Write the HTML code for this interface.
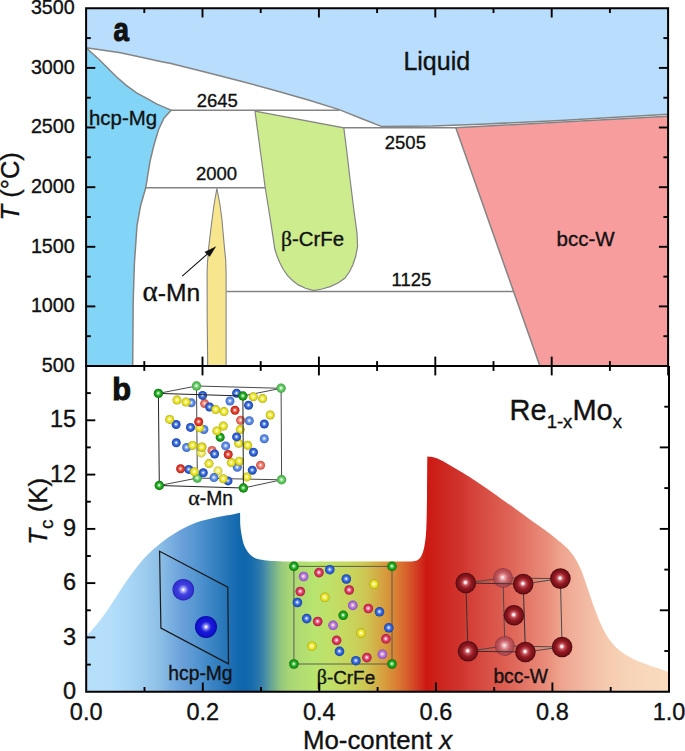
<!DOCTYPE html>
<html><head><meta charset="utf-8"><title>Re-Mo phase diagram</title>
<style>
html,body{margin:0;padding:0;background:#fff;}
body{width:685px;height:751px;overflow:hidden;}
svg{display:block;}
text{font-family:"Liberation Sans",sans-serif;fill:#111;stroke:#111;stroke-width:0.35px;}
.ser{font-family:"Liberation Serif",serif;}
</style></head><body>
<svg width="685" height="751" viewBox="0 0 685 751">
<defs>
<linearGradient id="gb" gradientUnits="userSpaceOnUse" x1="0" y1="0" x2="685" y2="0">
<stop offset="0.1255" stop-color="#b6dffb"/>
<stop offset="0.1620" stop-color="#b4defa"/>
<stop offset="0.1752" stop-color="#addaf8"/>
<stop offset="0.1883" stop-color="#a8d6f5"/>
<stop offset="0.2000" stop-color="#a3d1f2"/>
<stop offset="0.2117" stop-color="#9ccbee"/>
<stop offset="0.2219" stop-color="#95c5ea"/>
<stop offset="0.2328" stop-color="#8dbfe6"/>
<stop offset="0.2511" stop-color="#78aee0"/>
<stop offset="0.2672" stop-color="#689fd9"/>
<stop offset="0.2832" stop-color="#5898d2"/>
<stop offset="0.2993" stop-color="#468ccb"/>
<stop offset="0.3149" stop-color="#3580c0"/>
<stop offset="0.3285" stop-color="#2776b9"/>
<stop offset="0.3401" stop-color="#1a6db2"/>
<stop offset="0.3504" stop-color="#1268ad"/>
<stop offset="0.3562" stop-color="#0f66ab"/>
<stop offset="0.3635" stop-color="#1469ac"/>
<stop offset="0.3723" stop-color="#1f70ad"/>
<stop offset="0.3796" stop-color="#2e7aab"/>
<stop offset="0.3854" stop-color="#4088a8"/>
<stop offset="0.3912" stop-color="#5699a0"/>
<stop offset="0.3980" stop-color="#6eaa92"/>
<stop offset="0.4044" stop-color="#82b987"/>
<stop offset="0.4108" stop-color="#96c87c"/>
<stop offset="0.4175" stop-color="#a1d077"/>
<stop offset="0.4234" stop-color="#a8d674"/>
<stop offset="0.4380" stop-color="#b0dc72"/>
<stop offset="0.4599" stop-color="#b8e46f"/>
<stop offset="0.4818" stop-color="#c0e068"/>
<stop offset="0.5139" stop-color="#c8d45c"/>
<stop offset="0.5343" stop-color="#cdc653"/>
<stop offset="0.5460" stop-color="#d2b449"/>
<stop offset="0.5620" stop-color="#d79c3e"/>
<stop offset="0.5777" stop-color="#d98134"/>
<stop offset="0.5936" stop-color="#d8602c"/>
<stop offset="0.6096" stop-color="#d23a22"/>
<stop offset="0.6219" stop-color="#cd1812"/>
<stop offset="0.6416" stop-color="#cc231c"/>
<stop offset="0.6636" stop-color="#cf3029"/>
<stop offset="0.6730" stop-color="#d0342c"/>
<stop offset="0.6861" stop-color="#d44038"/>
<stop offset="0.7007" stop-color="#d6483f"/>
<stop offset="0.7080" stop-color="#d84e44"/>
<stop offset="0.7299" stop-color="#dc5a4e"/>
<stop offset="0.7533" stop-color="#e06a5c"/>
<stop offset="0.7752" stop-color="#e57c6c"/>
<stop offset="0.7980" stop-color="#e98d7a"/>
<stop offset="0.8204" stop-color="#eea58f"/>
<stop offset="0.8423" stop-color="#f1b29c"/>
<stop offset="0.8651" stop-color="#f3bfa6"/>
<stop offset="0.8876" stop-color="#f6cbaf"/>
<stop offset="0.9095" stop-color="#f7d1b5"/>
<stop offset="0.9323" stop-color="#f8d6b9"/>
<stop offset="0.9547" stop-color="#f9d9bc"/>
<stop offset="0.9766" stop-color="#f9dbbe"/>
</linearGradient>
<radialGradient id="sY" cx="0.5" cy="0.5" r="0.5" fx="0.48" fy="0.47">
<stop offset="0" stop-color="#ffffff"/>
<stop offset="0.07" stop-color="#ffffff"/>
<stop offset="0.28" stop-color="#f6f27a"/>
<stop offset="0.55" stop-color="#ece62c"/>
<stop offset="0.85" stop-color="#d2cc1c"/>
<stop offset="1" stop-color="#a39d10"/>
</radialGradient>
<radialGradient id="sLY" cx="0.5" cy="0.5" r="0.5" fx="0.48" fy="0.47">
<stop offset="0" stop-color="#ffffff"/>
<stop offset="0.07" stop-color="#ffffff"/>
<stop offset="0.28" stop-color="#f8f6a0"/>
<stop offset="0.55" stop-color="#f0ec60"/>
<stop offset="0.85" stop-color="#dcd748"/>
<stop offset="1" stop-color="#b5b030"/>
</radialGradient>
<radialGradient id="sB" cx="0.5" cy="0.5" r="0.5" fx="0.48" fy="0.47">
<stop offset="0" stop-color="#ffffff"/>
<stop offset="0.07" stop-color="#ffffff"/>
<stop offset="0.28" stop-color="#7ea2ee"/>
<stop offset="0.55" stop-color="#3568d6"/>
<stop offset="0.85" stop-color="#2150c0"/>
<stop offset="1" stop-color="#143a96"/>
</radialGradient>
<radialGradient id="sLB" cx="0.5" cy="0.5" r="0.5" fx="0.48" fy="0.47">
<stop offset="0" stop-color="#ffffff"/>
<stop offset="0.07" stop-color="#ffffff"/>
<stop offset="0.28" stop-color="#a0bef4"/>
<stop offset="0.55" stop-color="#5f8de4"/>
<stop offset="0.85" stop-color="#4876d4"/>
<stop offset="1" stop-color="#3560b4"/>
</radialGradient>
<radialGradient id="sR" cx="0.5" cy="0.5" r="0.5" fx="0.48" fy="0.47">
<stop offset="0" stop-color="#ffffff"/>
<stop offset="0.07" stop-color="#ffffff"/>
<stop offset="0.28" stop-color="#f08a7c"/>
<stop offset="0.55" stop-color="#e2402f"/>
<stop offset="0.85" stop-color="#cc2a20"/>
<stop offset="1" stop-color="#9c1a12"/>
</radialGradient>
<radialGradient id="sLR" cx="0.5" cy="0.5" r="0.5" fx="0.48" fy="0.47">
<stop offset="0" stop-color="#ffffff"/>
<stop offset="0.07" stop-color="#ffffff"/>
<stop offset="0.28" stop-color="#f4aaa0"/>
<stop offset="0.55" stop-color="#ea7466"/>
<stop offset="0.85" stop-color="#dc5e52"/>
<stop offset="1" stop-color="#b8443a"/>
</radialGradient>
<radialGradient id="sG" cx="0.5" cy="0.5" r="0.5" fx="0.48" fy="0.47">
<stop offset="0" stop-color="#ffffff"/>
<stop offset="0.07" stop-color="#ffffff"/>
<stop offset="0.28" stop-color="#6cd46c"/>
<stop offset="0.55" stop-color="#1ea81e"/>
<stop offset="0.85" stop-color="#128c12"/>
<stop offset="1" stop-color="#0a680a"/>
</radialGradient>
<radialGradient id="sLG" cx="0.5" cy="0.5" r="0.5" fx="0.48" fy="0.47">
<stop offset="0" stop-color="#ffffff"/>
<stop offset="0.07" stop-color="#ffffff"/>
<stop offset="0.28" stop-color="#a4e4a4"/>
<stop offset="0.55" stop-color="#62c862"/>
<stop offset="0.85" stop-color="#4cb44c"/>
<stop offset="1" stop-color="#389638"/>
</radialGradient>
<radialGradient id="sP" cx="0.5" cy="0.5" r="0.5" fx="0.48" fy="0.47">
<stop offset="0" stop-color="#fff6b0"/>
<stop offset="0.07" stop-color="#fff6b0"/>
<stop offset="0.28" stop-color="#d8b0d8"/>
<stop offset="0.55" stop-color="#b878e0"/>
<stop offset="0.85" stop-color="#9c5cd2"/>
<stop offset="1" stop-color="#7a40b0"/>
</radialGradient>
<radialGradient id="sC" cx="0.5" cy="0.5" r="0.5" fx="0.48" fy="0.47">
<stop offset="0" stop-color="#ffffff"/>
<stop offset="0.07" stop-color="#ffffff"/>
<stop offset="0.28" stop-color="#f090a8"/>
<stop offset="0.55" stop-color="#dc3c62"/>
<stop offset="0.85" stop-color="#c4264e"/>
<stop offset="1" stop-color="#961a3a"/>
</radialGradient>
<radialGradient id="sW" cx="0.5" cy="0.5" r="0.5" fx="0.48" fy="0.47">
<stop offset="0" stop-color="#ffffff"/>
<stop offset="0.07" stop-color="#ffffff"/>
<stop offset="0.28" stop-color="#c4525a"/>
<stop offset="0.55" stop-color="#961a22"/>
<stop offset="0.85" stop-color="#741018"/>
<stop offset="1" stop-color="#48070b"/>
</radialGradient>
<radialGradient id="sWf" cx="0.5" cy="0.5" r="0.5" fx="0.48" fy="0.47">
<stop offset="0" stop-color="#ffffff"/>
<stop offset="0.07" stop-color="#ffffff"/>
<stop offset="0.28" stop-color="#e8a0a8"/>
<stop offset="0.55" stop-color="#c25c66"/>
<stop offset="0.85" stop-color="#aa444e"/>
<stop offset="1" stop-color="#86303a"/>
</radialGradient>
<radialGradient id="sMg" cx="0.5" cy="0.5" r="0.5" fx="0.5" fy="0.5">
<stop offset="0" stop-color="#ffffff"/>
<stop offset="0.05" stop-color="#f4f4ff"/>
<stop offset="0.24" stop-color="#9494f2"/>
<stop offset="0.48" stop-color="#4040e0"/>
<stop offset="0.86" stop-color="#3232d2"/>
<stop offset="1" stop-color="#2222a8"/>
</radialGradient>
<radialGradient id="sMg2" cx="0.5" cy="0.5" r="0.5" fx="0.5" fy="0.5">
<stop offset="0" stop-color="#ffffff"/>
<stop offset="0.05" stop-color="#f4f4ff"/>
<stop offset="0.24" stop-color="#7474ee"/>
<stop offset="0.48" stop-color="#1a1adc"/>
<stop offset="0.86" stop-color="#1010cc"/>
<stop offset="1" stop-color="#0a0a9a"/>
</radialGradient>
</defs>
<polygon points="86.1,8.3 668.1,8.3 668.1,114.3 560.0,120.5 480.0,124.3 432.7,126.0 381.9,126.6 362.6,119.0 339.2,109.6 310.0,100.5 290.0,94.7 275.1,90.5 240.1,81.0 205.0,71.9 170.0,63.3 162.8,61.9 142.4,57.5 120.5,52.8 100.0,49.8 86.1,47.8" fill="#b9defd"/>
<polygon points="86.1,47.8 98.6,59.0 107.4,67.7 116.1,76.5 126.3,85.3 136.6,92.8 148.2,99.1 157.0,104.2 165.8,107.9 171.2,110.3 164.1,117.9 158.7,129.2 153.9,145.2 150.0,161.3 147.4,177.4 145.8,187.5 140.5,206.0 137.0,225.7 134.4,263.4 133.2,301.0 132.7,365.8 86.1,366.0" fill="#82d5f6"/>
<polygon points="255.0,111.2 343.8,127.8 347.0,153.0 350.1,179.8 354.1,211.8 357.0,233.0 357.6,246.4 355.8,256.0 352.8,265.0 349.3,272.0 344.8,278.3 338.0,283.0 330.2,286.6 322.0,289.0 313.7,290.6 305.5,288.3 298.2,284.9 292.5,280.5 287.6,275.6 283.2,269.3 279.6,262.3 277.0,256.0 274.8,249.0 271.6,227.7 268.5,208.0 265.0,186.5 262.9,170.0" fill="#cdec8d" stroke="#848484" stroke-width="1.2"/>
<polygon points="216.9,188.3 220.0,205.0 222.0,220.0 224.3,246.3 225.7,260.3 226.1,272.5 226.1,292.0 226.1,366.0 207.7,366.0 207.2,320.0 207.1,272.5 207.4,263.8 208.8,246.3 212.0,220.0 214.0,205.0" fill="#f8e68e" stroke="#848484" stroke-width="1.1"/>
<polygon points="455.8,127.8 560.0,122.5 667.8,116.3 667.8,365.8 539.8,365.8" fill="#f89d9e"/>
<g fill="none" stroke="#848484" stroke-width="1.5">
<polyline points="86.1,47.8 100.0,49.8 120.5,52.8 142.4,57.5 162.8,61.9 170.0,63.3 205.0,71.9 240.1,81.0 275.1,90.5 290.0,94.7 310.0,100.5 339.2,109.6 362.6,119.0 381.9,126.6 432.7,126.0 480.0,124.3 560.0,120.5 668.1,114.3"/>
<polyline points="86.1,47.8 98.6,59.0 107.4,67.7 116.1,76.5 126.3,85.3 136.6,92.8 148.2,99.1 157.0,104.2 165.8,107.9 171.2,110.3 164.1,117.9 158.7,129.2 153.9,145.2 150.0,161.3 147.4,177.4 145.8,187.5 140.5,206.0 137.0,225.7 134.4,263.4 133.2,301.0 132.7,365.8"/>
<line x1="170.9" y1="110.2" x2="339.2" y2="110.2"/>
<line x1="145.8" y1="187.7" x2="265.1" y2="187.7"/>
<line x1="343.4" y1="127.8" x2="455.8" y2="127.8"/>
<line x1="226.6" y1="291.4" x2="513.4" y2="291.4"/>
<polyline points="667.8,116.3 455.8,127.8 539.8,365.8"/>
</g>
<line x1="182.2" y1="276.1" x2="209" y2="252.6" stroke="#111" stroke-width="1.1"/>
<polygon points="216.2,246.3 204.5,252.1 209.7,256.8" fill="#111"/>
<text transform="translate(113.4,40.6) scale(0.85,1)" font-size="32.6" font-weight="bold" style="stroke-width:1.1px">a</text>
<text x="403.4" y="70.1" font-size="25">Liquid</text>
<text x="89" y="124.7" font-size="20.4">hcp-Mg</text>
<text x="196.7" y="106.6" font-size="18.5">2645</text>
<text x="196" y="180.0" font-size="18.5">2000</text>
<text x="384.8" y="148.6" font-size="18.5">2505</text>
<text x="391.5" y="285.7" font-size="18.5">1125</text>
<text x="281" y="245.6" font-size="20.4"><tspan class="ser" font-size="21.5">β</tspan>-CrFe</text>
<text x="556.5" y="246" font-size="20.5">bcc-W</text>
<text x="142.5" y="301" font-size="24.6"><tspan class="ser" font-size="29">α</tspan>-Mn</text>
<path d="M86.1,636.6 C87.7,634.8 92.4,629.8 95.8,625.6 C99.2,621.5 102.8,616.7 106.3,611.7 C109.8,606.8 113.3,601.2 116.8,595.9 C120.3,590.6 123.8,585.1 127.3,580.1 C130.8,575.1 134.3,570.1 137.8,565.7 C141.3,561.3 144.8,557.4 148.3,553.9 C151.8,550.4 155.3,547.6 158.8,544.7 C162.3,541.9 165.8,539.2 169.3,536.8 C172.8,534.4 176.3,532.2 179.8,530.2 C183.3,528.2 186.9,526.5 190.4,525.0 C193.9,523.5 197.4,522.1 200.9,521.0 C204.4,519.9 207.9,519.2 211.4,518.4 C214.9,517.6 218.4,516.9 221.9,516.3 C225.4,515.6 229.4,515.1 232.4,514.5 C235.4,513.9 238.8,513.1 240.1,512.8 C240.2,515.0 240.1,522.3 240.4,526.3 C240.7,530.2 241.3,533.3 241.9,536.5 C242.5,539.7 243.1,542.8 244.1,545.3 C245.1,547.8 246.4,550.0 247.7,551.8 C249.0,553.6 250.4,555.0 252.1,556.2 C253.8,557.4 255.6,558.4 258.0,559.1 C260.4,559.8 263.3,560.2 266.7,560.6 C270.1,561.0 274.0,561.1 278.4,561.3 C282.8,561.5 281.1,561.5 293.0,561.6 C304.9,561.7 331.3,561.6 350.0,561.6 C368.7,561.6 394.7,561.6 405.0,561.6 C415.3,561.6 409.6,561.7 411.7,561.5 C413.8,561.3 415.8,561.1 417.3,560.3 C418.9,559.5 419.9,558.5 421.0,556.6 C422.1,554.7 423.0,552.4 423.8,549.1 C424.6,545.8 425.2,541.8 425.7,537.0 C426.2,532.2 426.4,527.0 426.6,520.2 C426.8,513.4 426.9,504.4 427.0,496.0 C427.1,487.6 427.1,476.6 427.2,470.0 C427.2,463.4 427.3,458.7 427.3,456.4 C427.9,456.5 429.6,456.5 431.0,456.8 C432.4,457.1 433.6,457.2 436.0,458.1 C438.4,459.0 442.2,460.8 445.3,462.4 C448.4,464.0 451.5,466.1 454.6,468.0 C457.7,469.9 460.9,471.7 464.0,473.6 C467.1,475.5 469.8,477.3 473.3,479.6 C476.9,481.9 480.7,484.4 485.3,487.5 C489.9,490.6 495.6,494.8 500.7,498.4 C505.8,502.0 510.9,505.6 516.0,509.3 C521.1,513.0 526.2,516.7 531.3,520.4 C536.4,524.1 541.5,527.4 546.6,531.3 C551.7,535.2 557.9,540.0 562.0,543.6 C566.1,547.2 568.4,549.2 571.2,552.8 C574.0,556.4 576.5,560.4 578.8,565.0 C581.1,569.6 583.0,574.8 585.0,580.4 C587.0,586.0 589.1,592.9 591.1,598.8 C593.1,604.7 595.2,610.5 597.2,615.6 C599.2,620.7 601.1,625.0 603.4,629.4 C605.7,633.8 608.2,638.1 611.0,641.7 C613.8,645.3 616.6,648.1 620.2,650.9 C623.8,653.7 627.9,656.2 632.5,658.5 C637.1,660.8 641.7,662.5 647.8,664.7 C653.9,666.9 665.5,670.7 669.0,671.9 L669.0,691.7 L86.1,691.7 Z" fill="url(#gb)"/>
<polygon points="159.6,551.3 227.8,587.1 228.5,663.9 160.9,628.1" fill="none" stroke="#1a1a1a" stroke-width="1.2"/>
<circle cx="183.3" cy="589.7" r="10.8" fill="url(#sMg)"/>
<circle cx="206.0" cy="626.9" r="11" fill="url(#sMg2)"/>
<g fill="none" stroke="#333" stroke-width="0.9">
<polygon points="196.5,386.0 281.1,388.3 281.6,479.8 197.3,478.1"/>
<line x1="158.4" y1="393.4" x2="196.5" y2="386.0"/>
<line x1="242.9" y1="396.0" x2="281.1" y2="388.3"/>
<line x1="243.4" y1="488.0" x2="281.6" y2="479.8"/>
<line x1="159.3" y1="485.5" x2="197.3" y2="478.1"/>
</g>
<circle cx="196.5" cy="386.0" r="4.7" fill="url(#sLG)"/>
<circle cx="281.1" cy="388.3" r="4.7" fill="url(#sLG)"/>
<circle cx="281.6" cy="479.8" r="4.7" fill="url(#sLG)"/>
<circle cx="197.3" cy="478.1" r="4.7" fill="url(#sLG)"/>
<circle cx="191.2" cy="402.8" r="4.5" fill="url(#sLB)"/>
<circle cx="204.6" cy="403.6" r="4.5" fill="url(#sLR)"/>
<circle cx="230.0" cy="401.0" r="4.5" fill="url(#sLB)"/>
<circle cx="240.6" cy="420.3" r="4.5" fill="url(#sLR)"/>
<circle cx="249.3" cy="420.7" r="4.5" fill="url(#sLB)"/>
<circle cx="264.3" cy="438.7" r="4.5" fill="url(#sLB)"/>
<circle cx="203.9" cy="429.5" r="4.5" fill="url(#sLB)"/>
<circle cx="225.7" cy="445.9" r="4.5" fill="url(#sLB)"/>
<circle cx="201.3" cy="452.9" r="4.5" fill="url(#sLY)"/>
<circle cx="212.0" cy="450.4" r="4.5" fill="url(#sLR)"/>
<circle cx="186.6" cy="447.5" r="4.5" fill="url(#sLB)"/>
<circle cx="237.3" cy="467.3" r="4.5" fill="url(#sLB)"/>
<circle cx="218.0" cy="470.9" r="4.5" fill="url(#sLY)"/>
<circle cx="214.0" cy="477.6" r="4.5" fill="url(#sLB)"/>
<circle cx="260.6" cy="465.3" r="4.5" fill="url(#sLR)"/>
<circle cx="240.3" cy="429.6" r="4.5" fill="url(#sY)"/>
<circle cx="238.6" cy="443.3" r="4.5" fill="url(#sY)"/>
<circle cx="247.7" cy="445.3" r="4.5" fill="url(#sY)"/>
<circle cx="202.6" cy="395.4" r="4.5" fill="url(#sB)"/>
<circle cx="209.6" cy="407.0" r="4.5" fill="url(#sB)"/>
<circle cx="236.6" cy="393.3" r="4.5" fill="url(#sB)"/>
<circle cx="248.6" cy="405.2" r="4.5" fill="url(#sB)"/>
<circle cx="264.3" cy="424.0" r="4.5" fill="url(#sB)"/>
<circle cx="236.6" cy="436.9" r="4.5" fill="url(#sB)"/>
<circle cx="253.5" cy="452.2" r="4.5" fill="url(#sB)"/>
<circle cx="214.6" cy="454.0" r="4.5" fill="url(#sB)"/>
<circle cx="203.3" cy="472.8" r="4.5" fill="url(#sB)"/>
<circle cx="228.0" cy="480.9" r="4.5" fill="url(#sB)"/>
<circle cx="252.3" cy="470.2" r="4.5" fill="url(#sB)"/>
<circle cx="176.1" cy="424.5" r="4.5" fill="url(#sB)"/>
<circle cx="190.5" cy="427.4" r="4.5" fill="url(#sB)"/>
<circle cx="176.3" cy="442.8" r="4.5" fill="url(#sB)"/>
<circle cx="188.8" cy="469.4" r="4.5" fill="url(#sB)"/>
<circle cx="220.2" cy="437.2" r="4.5" fill="url(#sG)"/>
<circle cx="177.0" cy="400.1" r="4.5" fill="url(#sY)"/>
<circle cx="186.0" cy="402.1" r="4.5" fill="url(#sY)"/>
<circle cx="215.7" cy="409.6" r="4.5" fill="url(#sY)"/>
<circle cx="224.0" cy="411.6" r="4.5" fill="url(#sY)"/>
<circle cx="253.3" cy="396.7" r="4.5" fill="url(#sY)"/>
<circle cx="262.6" cy="398.6" r="4.5" fill="url(#sY)"/>
<circle cx="270.2" cy="415.0" r="4.5" fill="url(#sY)"/>
<circle cx="223.3" cy="426.0" r="4.5" fill="url(#sY)"/>
<circle cx="216.9" cy="430.9" r="4.5" fill="url(#sY)"/>
<circle cx="202.0" cy="446.9" r="4.5" fill="url(#sY)"/>
<circle cx="231.3" cy="462.6" r="4.5" fill="url(#sY)"/>
<circle cx="239.3" cy="461.2" r="4.5" fill="url(#sY)"/>
<circle cx="209.0" cy="463.6" r="4.5" fill="url(#sY)"/>
<circle cx="223.3" cy="478.7" r="4.5" fill="url(#sY)"/>
<circle cx="246.9" cy="476.9" r="4.5" fill="url(#sY)"/>
<circle cx="169.7" cy="419.4" r="4.5" fill="url(#sY)"/>
<circle cx="199.6" cy="427.7" r="4.5" fill="url(#sY)"/>
<circle cx="192.6" cy="445.4" r="4.5" fill="url(#sY)"/>
<circle cx="201.7" cy="447.2" r="4.5" fill="url(#sY)"/>
<circle cx="194.4" cy="471.7" r="4.5" fill="url(#sY)"/>
<circle cx="235.0" cy="410.3" r="4.5" fill="url(#sR)"/>
<circle cx="198.7" cy="421.8" r="4.5" fill="url(#sR)"/>
<circle cx="228.2" cy="454.5" r="4.5" fill="url(#sR)"/>
<circle cx="180.6" cy="468.8" r="4.5" fill="url(#sR)"/>
<polygon points="158.4,393.4 242.9,396.0 243.4,488.0 159.3,485.5" fill="none" stroke="#222" stroke-width="1"/>
<circle cx="158.4" cy="393.4" r="4.7" fill="url(#sG)"/>
<circle cx="242.9" cy="396.0" r="4.7" fill="url(#sG)"/>
<circle cx="243.4" cy="488.0" r="4.7" fill="url(#sG)"/>
<circle cx="159.3" cy="485.5" r="4.7" fill="url(#sG)"/>
<polygon points="293.9,566.4 392.0,566.4 392.0,664.0 293.9,664.0" fill="none" stroke="#505050" stroke-width="0.9"/>
<circle cx="293.9" cy="566.4" r="4.8" fill="url(#sG)"/>
<circle cx="392.0" cy="566.4" r="4.8" fill="url(#sG)"/>
<circle cx="392.0" cy="664.0" r="4.8" fill="url(#sG)"/>
<circle cx="293.9" cy="664.0" r="4.8" fill="url(#sG)"/>
<circle cx="343.2" cy="615.3" r="4.8" fill="url(#sG)"/>
<circle cx="303.6" cy="576.5" r="4.8" fill="url(#sP)"/>
<circle cx="352.8" cy="605.4" r="4.8" fill="url(#sP)"/>
<circle cx="333.1" cy="625.3" r="4.8" fill="url(#sP)"/>
<circle cx="382.4" cy="654.3" r="4.8" fill="url(#sP)"/>
<circle cx="319.0" cy="572.6" r="4.8" fill="url(#sC)"/>
<circle cx="300.3" cy="591.5" r="4.8" fill="url(#sC)"/>
<circle cx="349.2" cy="590.0" r="4.8" fill="url(#sC)"/>
<circle cx="368.3" cy="608.5" r="4.8" fill="url(#sC)"/>
<circle cx="317.7" cy="621.5" r="4.8" fill="url(#sC)"/>
<circle cx="336.6" cy="640.4" r="4.8" fill="url(#sC)"/>
<circle cx="385.9" cy="638.9" r="4.8" fill="url(#sC)"/>
<circle cx="366.9" cy="657.6" r="4.8" fill="url(#sC)"/>
<circle cx="329.8" cy="569.7" r="4.8" fill="url(#sB)"/>
<circle cx="346.3" cy="579.0" r="4.8" fill="url(#sB)"/>
<circle cx="297.4" cy="602.5" r="4.8" fill="url(#sB)"/>
<circle cx="379.5" cy="611.8" r="4.8" fill="url(#sB)"/>
<circle cx="306.7" cy="618.6" r="4.8" fill="url(#sB)"/>
<circle cx="388.8" cy="627.8" r="4.8" fill="url(#sB)"/>
<circle cx="339.5" cy="651.4" r="4.8" fill="url(#sB)"/>
<circle cx="355.9" cy="660.7" r="4.8" fill="url(#sB)"/>
<circle cx="374.1" cy="584.2" r="4.8" fill="url(#sY)"/>
<circle cx="324.8" cy="597.3" r="4.8" fill="url(#sY)"/>
<circle cx="361.1" cy="633.1" r="4.8" fill="url(#sY)"/>
<circle cx="311.9" cy="646.2" r="4.8" fill="url(#sY)"/>
<g fill="none" stroke="#4a4a4a" stroke-width="1">
<polygon points="503.0,578.0 560.4,578.6 562.1,647.0 504.8,645.9"/>
<line x1="465.8" y1="583.0" x2="503.0" y2="578.0"/>
<line x1="523.2" y1="584.1" x2="560.4" y2="578.6"/>
<line x1="525.4" y1="652.0" x2="562.1" y2="647.0"/>
<line x1="468.0" y1="651.3" x2="504.8" y2="645.9"/>
</g>
<circle cx="503.0" cy="578.0" r="10.0" fill="url(#sWf)" opacity="0.85"/>
<circle cx="504.8" cy="645.9" r="10.0" fill="url(#sWf)" opacity="0.85"/>
<circle cx="560.4" cy="578.6" r="10.3" fill="url(#sW)"/>
<circle cx="562.1" cy="647.0" r="10.3" fill="url(#sW)"/>
<circle cx="514.0" cy="615.2" r="10.3" fill="url(#sW)"/>
<polygon points="465.8,583.0 523.2,584.1 525.4,652.0 468.0,651.3" fill="none" stroke="#333" stroke-width="1"/>
<circle cx="465.8" cy="583.0" r="10.3" fill="url(#sW)"/>
<circle cx="468.0" cy="651.3" r="10.3" fill="url(#sW)"/>
<circle cx="523.2" cy="584.1" r="10.3" fill="url(#sW)"/>
<circle cx="525.4" cy="652.0" r="10.3" fill="url(#sW)"/>
<text transform="translate(112.2,399.8) scale(0.96,1)" font-size="32" font-weight="bold" style="stroke-width:1.1px">b</text>
<text x="168.3" y="680.0" font-size="19.3">hcp-Mg</text>
<text x="210.7" y="505.0" font-size="19.3" text-anchor="middle"><tspan class="ser" font-size="22">α</tspan>-Mn</text>
<text x="316.7" y="683.8" font-size="18.9"><tspan class="ser" font-size="20">β</tspan>-CrFe</text>
<text x="493.4" y="683.1" font-size="19.3">bcc-W</text>
<text x="509.6" y="419.8" font-size="29">Re<tspan font-size="18.5" dy="8">1-x</tspan><tspan dy="-8">Mo</tspan><tspan font-size="18.5" dy="8">x</tspan></text>
<g fill="none" stroke="#000" stroke-width="2">
<path d="M86.1,8.3 H668.1 V366.0 H86.1 Z"/>
<path d="M86.2,366.0 V691.7 H669.0 V366.0"/>
</g>
<g fill="none" stroke="#000" stroke-width="1.9">
<line x1="86.1" y1="336.2" x2="90.8" y2="336.2"/>
<line x1="668.1" y1="336.2" x2="663.4" y2="336.2"/>
<line x1="86.1" y1="306.4" x2="95.3" y2="306.4"/>
<line x1="668.1" y1="306.4" x2="658.9" y2="306.4"/>
<line x1="86.1" y1="276.6" x2="90.8" y2="276.6"/>
<line x1="668.1" y1="276.6" x2="663.4" y2="276.6"/>
<line x1="86.1" y1="246.8" x2="95.3" y2="246.8"/>
<line x1="668.1" y1="246.8" x2="658.9" y2="246.8"/>
<line x1="86.1" y1="217.0" x2="90.8" y2="217.0"/>
<line x1="668.1" y1="217.0" x2="663.4" y2="217.0"/>
<line x1="86.1" y1="187.2" x2="95.3" y2="187.2"/>
<line x1="668.1" y1="187.2" x2="658.9" y2="187.2"/>
<line x1="86.1" y1="157.3" x2="90.8" y2="157.3"/>
<line x1="668.1" y1="157.3" x2="663.4" y2="157.3"/>
<line x1="86.1" y1="127.5" x2="95.3" y2="127.5"/>
<line x1="668.1" y1="127.5" x2="658.9" y2="127.5"/>
<line x1="86.1" y1="97.7" x2="90.8" y2="97.7"/>
<line x1="668.1" y1="97.7" x2="663.4" y2="97.7"/>
<line x1="86.1" y1="67.9" x2="95.3" y2="67.9"/>
<line x1="668.1" y1="67.9" x2="658.9" y2="67.9"/>
<line x1="86.1" y1="38.1" x2="90.8" y2="38.1"/>
<line x1="668.1" y1="38.1" x2="663.4" y2="38.1"/>
<line x1="86.1" y1="664.6" x2="90.8" y2="664.6"/>
<line x1="86.1" y1="637.4" x2="95.3" y2="637.4"/>
<line x1="86.1" y1="610.3" x2="90.8" y2="610.3"/>
<line x1="86.1" y1="583.1" x2="95.3" y2="583.1"/>
<line x1="86.1" y1="556.0" x2="90.8" y2="556.0"/>
<line x1="86.1" y1="528.9" x2="95.3" y2="528.9"/>
<line x1="86.1" y1="501.7" x2="90.8" y2="501.7"/>
<line x1="86.1" y1="474.6" x2="95.3" y2="474.6"/>
<line x1="86.1" y1="447.4" x2="90.8" y2="447.4"/>
<line x1="86.1" y1="420.3" x2="95.3" y2="420.3"/>
<line x1="86.1" y1="393.1" x2="90.8" y2="393.1"/>
<line x1="669.0" y1="651.0" x2="664.3" y2="651.0"/>
<line x1="669.0" y1="610.3" x2="659.8" y2="610.3"/>
<line x1="669.0" y1="569.6" x2="664.3" y2="569.6"/>
<line x1="669.0" y1="528.9" x2="659.8" y2="528.9"/>
<line x1="669.0" y1="488.1" x2="664.3" y2="488.1"/>
<line x1="669.0" y1="447.4" x2="659.8" y2="447.4"/>
<line x1="669.0" y1="406.7" x2="664.3" y2="406.7"/>
<line x1="144.3" y1="8.3" x2="144.3" y2="13.0"/>
<line x1="144.3" y1="361.1" x2="144.3" y2="370.9"/>
<line x1="144.5" y1="691.7" x2="144.5" y2="687.0"/>
<line x1="202.5" y1="8.3" x2="202.5" y2="17.5"/>
<line x1="202.5" y1="356.6" x2="202.5" y2="375.4"/>
<line x1="202.8" y1="691.7" x2="202.8" y2="682.5"/>
<line x1="260.7" y1="8.3" x2="260.7" y2="13.0"/>
<line x1="260.7" y1="361.1" x2="260.7" y2="370.9"/>
<line x1="261.0" y1="691.7" x2="261.0" y2="687.0"/>
<line x1="318.9" y1="8.3" x2="318.9" y2="17.5"/>
<line x1="318.9" y1="356.6" x2="318.9" y2="375.4"/>
<line x1="319.3" y1="691.7" x2="319.3" y2="682.5"/>
<line x1="377.1" y1="8.3" x2="377.1" y2="13.0"/>
<line x1="377.1" y1="361.1" x2="377.1" y2="370.9"/>
<line x1="377.6" y1="691.7" x2="377.6" y2="687.0"/>
<line x1="435.3" y1="8.3" x2="435.3" y2="17.5"/>
<line x1="435.3" y1="356.6" x2="435.3" y2="375.4"/>
<line x1="435.9" y1="691.7" x2="435.9" y2="682.5"/>
<line x1="493.5" y1="8.3" x2="493.5" y2="13.0"/>
<line x1="493.5" y1="361.1" x2="493.5" y2="370.9"/>
<line x1="494.2" y1="691.7" x2="494.2" y2="687.0"/>
<line x1="551.7" y1="8.3" x2="551.7" y2="17.5"/>
<line x1="551.7" y1="356.6" x2="551.7" y2="375.4"/>
<line x1="552.4" y1="691.7" x2="552.4" y2="682.5"/>
<line x1="609.9" y1="8.3" x2="609.9" y2="13.0"/>
<line x1="609.9" y1="361.1" x2="609.9" y2="370.9"/>
<line x1="610.7" y1="691.7" x2="610.7" y2="687.0"/>
<line x1="668.1" y1="366.0" x2="668.1" y2="375.4"/>
</g>
<text x="74.7" y="371.8" font-size="19.7" text-anchor="end">500</text>
<text x="74.7" y="312.2" font-size="19.7" text-anchor="end">1000</text>
<text x="74.7" y="252.6" font-size="19.7" text-anchor="end">1500</text>
<text x="74.7" y="193.0" font-size="19.7" text-anchor="end">2000</text>
<text x="74.7" y="133.3" font-size="19.7" text-anchor="end">2500</text>
<text x="74.7" y="73.7" font-size="19.7" text-anchor="end">3000</text>
<text x="74.7" y="14.1" font-size="19.7" text-anchor="end">3500</text>
<text x="76.2" y="698.8" font-size="23.5" text-anchor="end">0</text>
<text x="76.2" y="644.5" font-size="23.5" text-anchor="end">3</text>
<text x="76.2" y="590.2" font-size="23.5" text-anchor="end">6</text>
<text x="76.2" y="536.0" font-size="23.5" text-anchor="end">9</text>
<text x="76.2" y="481.7" font-size="23.5" text-anchor="end">12</text>
<text x="76.2" y="427.4" font-size="23.5" text-anchor="end">15</text>
<text x="86.2" y="720.2" font-size="23.5" text-anchor="middle">0.0</text>
<text x="202.8" y="720.2" font-size="23.5" text-anchor="middle">0.2</text>
<text x="319.3" y="720.2" font-size="23.5" text-anchor="middle">0.4</text>
<text x="435.9" y="720.2" font-size="23.5" text-anchor="middle">0.6</text>
<text x="552.4" y="720.2" font-size="23.5" text-anchor="middle">0.8</text>
<text x="669.0" y="720.2" font-size="23.5" text-anchor="middle">1.0</text>
<text transform="translate(18.5,186.3) rotate(-90)" font-size="25.5" text-anchor="middle"><tspan font-style="italic">T</tspan> (°C)</text>
<text transform="translate(46.8,511.4) rotate(-90)" font-size="25.8" text-anchor="middle"><tspan font-style="italic">T</tspan><tspan font-size="19" dy="6">c</tspan><tspan dy="-6"> (K)</tspan></text>
<text x="377.6" y="748.6" font-size="25.8" text-anchor="middle">Mo-content <tspan font-style="italic">x</tspan></text>
</svg>
</body></html>
